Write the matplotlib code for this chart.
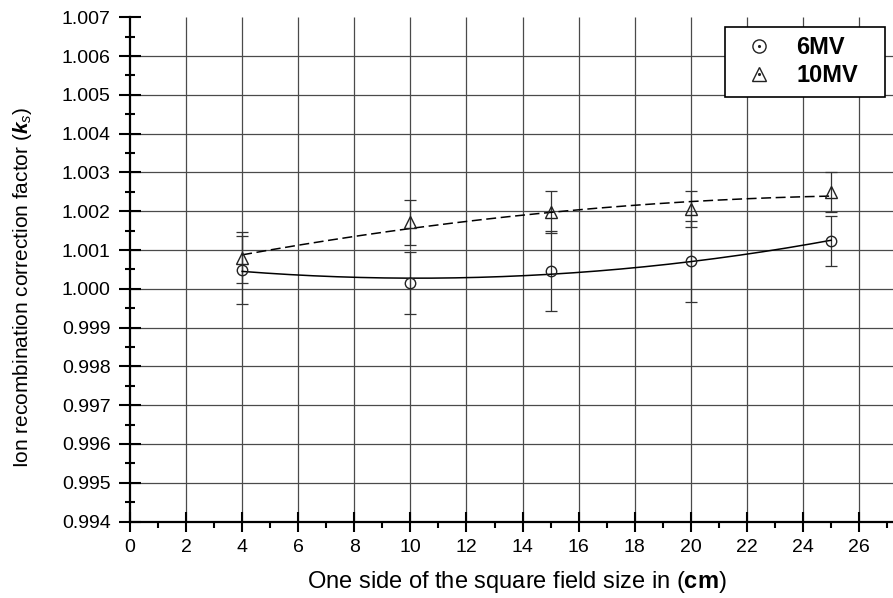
import numpy as np
import matplotlib
matplotlib.use("Agg")
import matplotlib.pyplot as plt
from matplotlib.lines import Line2D
from matplotlib.patches import Rectangle
from matplotlib.legend_handler import HandlerTuple
from matplotlib.ticker import MultipleLocator, FormatStrFormatter

plt.rcParams['font.family'] = ['Liberation Sans', 'DejaVu Sans']
plt.rcParams['mathtext.fontset'] = 'custom'
plt.rcParams['mathtext.rm'] = 'Liberation Sans'
plt.rcParams['mathtext.it'] = 'Liberation Sans:italic'
plt.rcParams['mathtext.bf'] = 'Liberation Sans:bold'
plt.rcParams['mathtext.bfit'] = 'Liberation Sans:bold:italic'

# ---- data ----
field_size = [4, 10, 15, 20, 25]
ks_6mv = [1.00049, 1.00015, 1.00047, 1.00071, 1.00123]
err_6mv = [0.00088, 0.00081, 0.00103, 0.00104, 0.00065]
ks_10mv = [1.00080, 1.00172, 1.00198, 1.00205, 1.00249]
err_10mv = [0.00066, 0.00058, 0.00053, 0.00046, 0.00052]
series_labels = ["6MV", "10MV"]
x_ticks = list(range(0, 27, 2))
y_ticks = [0.994, 0.995, 0.996, 0.997, 0.998, 0.999, 1.000,
           1.001, 1.002, 1.003, 1.004, 1.005, 1.006, 1.007]

fig = plt.figure(figsize=(8.93, 5.98), dpi=100)
ax = fig.add_axes([130/893, 1-521.5/598, 1-130/893, (521.5-17.3)/598])
ax.set_xlim(0, 27.21)
ax.set_ylim(0.994, 1.007)

# grid drawn from tick positions (no line on the top edge)
grid_c = '#4a4a4a'
ax.vlines([t for t in x_ticks if t > 0], 0.994, 1.007, colors=grid_c, lw=0.9, zorder=1)
ax.hlines([t for t in y_ticks if 0.994 < t < 1.007], 0, 27.21, colors=grid_c, lw=0.9, zorder=1)

xs = np.array(field_size, dtype=float)
xfit = np.linspace(xs.min(), xs.max(), 200)
c6 = np.polyfit(xs, np.array(ks_6mv) - 1.0, 2)
c10 = np.polyfit(xs, np.array(ks_10mv) - 1.0, 2)
ax.plot(xfit, np.polyval(c6, xfit) + 1.0, color='black', lw=1.1, zorder=3)
ax.plot(xfit, np.polyval(c10, xfit) + 1.0, color='black', lw=1.1,
        ls=(0, (6.5, 3)), zorder=3)

ax.errorbar(field_size, ks_6mv, yerr=err_6mv, fmt='none', ecolor='#333333',
            elinewidth=0.9, capsize=4.2, capthick=0.9, zorder=2)
ax.errorbar(field_size, ks_10mv, yerr=err_10mv, fmt='none', ecolor='#333333',
            elinewidth=0.9, capsize=4.2, capthick=0.9, zorder=2)
ax.plot(field_size, ks_6mv, ls='none', marker='o', ms=7.5, mfc='none',
        mec='#222222', mew=1.0, zorder=4)
ax.plot(field_size, ks_10mv, ls='none', marker='^', ms=9.0, mfc='none',
        mec='#222222', mew=1.0, zorder=4)

# axes styling
for s in ['top', 'right']:
    ax.spines[s].set_visible(False)
for s in ['left', 'bottom']:
    ax.spines[s].set_linewidth(1.6)

ax.set_xticks(x_ticks)
ax.xaxis.set_minor_locator(MultipleLocator(1))
ax.set_yticks(y_ticks)
ax.yaxis.set_major_formatter(FormatStrFormatter('%.3f'))
ax.yaxis.set_minor_locator(MultipleLocator(0.0005))
ax.tick_params(axis='y', which='major', direction='inout', length=16, width=1.5,
               labelsize=14, pad=6)
ax.tick_params(axis='y', which='minor', direction='inout', length=7, width=1.5)
ax.tick_params(axis='x', which='major', direction='inout', length=15, width=1.5,
               labelsize=14, pad=5)
ax.tick_params(axis='x', which='minor', direction='out', length=4, width=1.5)

ax.set_xlabel(r'One side of the square field size in ($\mathbf{cm}$)', fontsize=17)
ax.xaxis.set_label_coords(0.507, -0.094)
ax.set_ylabel(r'Ion recombination correction factor ($\mathbfit{k}_{\mathit{s}}$)',
              fontsize=15)
ax.yaxis.set_label_coords(-0.126, 0.465)

# legend frame
frame = Rectangle((725/893, 1-97/598), 160/893, 70/598, transform=fig.transFigure,
                  facecolor='white', edgecolor='black', lw=1.2, zorder=9)
fig.patches.append(frame)

h6 = (Line2D([], [], ls='none', marker='o', ms=9.5, mfc='none', mec='#222222', mew=1.0),
      Line2D([], [], ls='none', marker='.', ms=2.5, color='#222222'))
h10 = (Line2D([], [], ls='none', marker='^', ms=10.5, mfc='none', mec='#222222', mew=1.0),
       Line2D([], [], ls='none', marker='.', ms=2.5, color='#222222'))
leg = fig.legend([h6, h10], series_labels, loc='upper left',
                 bbox_to_anchor=(725/893, 1-27/598),
                 bbox_transform=fig.transFigure,
                 handler_map={tuple: HandlerTuple(ndivide=1)},
                 prop={'weight': 'bold', 'size': 17}, frameon=False,
                 borderpad=0.38, labelspacing=0.23,
                 handlelength=2.1, handletextpad=0.55, borderaxespad=0)
leg.set_zorder(10)

fig.savefig('out.png', dpi=100)
